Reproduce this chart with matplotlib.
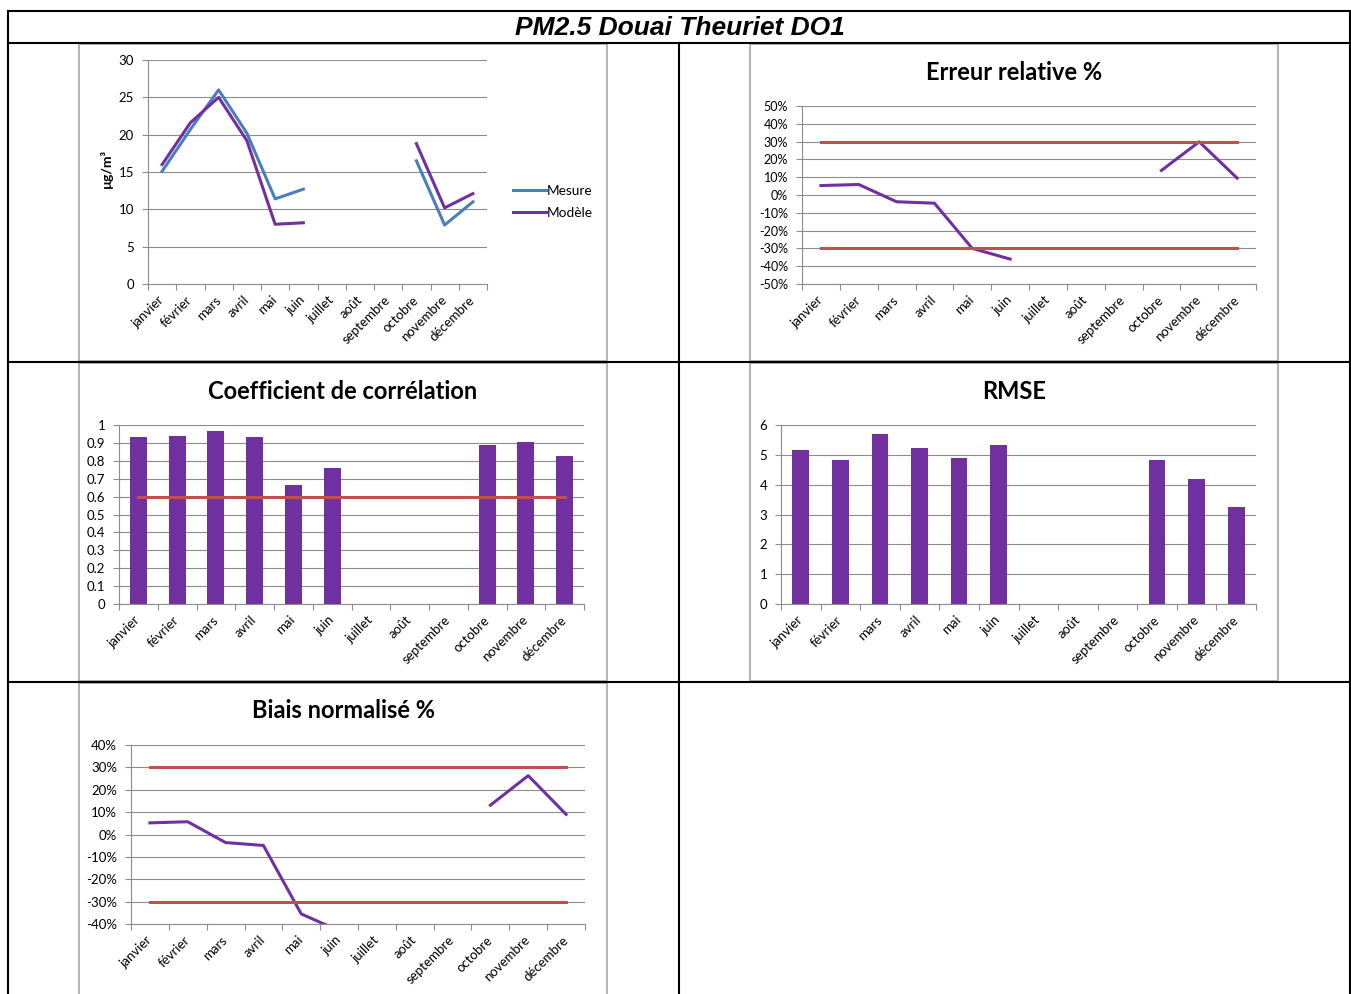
import matplotlib
matplotlib.use('Agg')
import matplotlib.pyplot as plt
import numpy as np
from matplotlib.lines import Line2D
from matplotlib.patches import Rectangle
from matplotlib.ticker import FuncFormatter, MultipleLocator

plt.rcParams['font.family'] = ['Lato', 'DejaVu Sans']

# données
mois = ['janvier', 'février', 'mars', 'avril', 'mai', 'juin', 'juillet',
        'août', 'septembre', 'octobre', 'novembre', 'décembre']
nan = np.nan
mesure = [15.1, 20.7, 26.0, 20.2, 11.4, 12.7, nan, nan, nan, 16.5, 7.9, 11.0]
modele = [16.0, 21.6, 25.0, 19.2, 8.0, 8.2, nan, nan, nan, 18.8, 10.2, 12.1]
erreur_rel = [5.3, 5.9, -3.8, -4.6, -30.0, -36.0, nan, nan, nan, 13.8, 29.9, 9.5]
correlation = [0.933, 0.937, 0.968, 0.931, 0.664, 0.757, nan, nan, nan, 0.888, 0.905, 0.826]
rmse = [5.17, 4.84, 5.70, 5.23, 4.89, 5.32, nan, nan, nan, 4.83, 4.20, 3.25]
biais = [5.2, 5.7, -3.6, -4.9, -35.5, -43.0, nan, nan, nan, 13.1, 26.3, 9.0]
seuil_pct = 30
seuil_corr = 0.6

BLEU = '#4A7EBB'
VIOLET = '#7030A0'
ROUGE = '#C0504D'
GRIS = '#8C8C8C'

W, H = 1351, 994
fig = plt.figure(figsize=(W / 100, H / 100), dpi=100)


def box(x0, y0, x1, y1):
    return [x0 / W, 1 - y1 / H, (x1 - x0) / W, (y1 - y0) / H]


def fy(y):
    return 1 - y / H


# tableau
for x0, y0, x1, y1 in [(8, 11, 1350, 11), (8, 43, 1350, 43), (8, 362, 1350, 362),
                       (8, 682, 1350, 682), (8, 11, 8, 994), (1350, 11, 1350, 994),
                       (679, 43, 679, 994)]:
    fig.add_artist(Line2D([x0 / W, x1 / W], [fy(y0), fy(y1)], color='black', lw=1.5))

# cadres des graphiques
for x0, y0, x1, y1 in [(79, 44, 607, 361), (750, 44, 1278, 361), (79, 363, 607, 681),
                       (750, 363, 1278, 681), (79, 683, 607, 1000)]:
    fig.add_artist(Rectangle((x0 / W, fy(y1)), (x1 - x0) / W, (y1 - y0) / H,
                             transform=fig.transFigure, fill=False, ec='#A6A6A6', lw=1.2))

fig.text(680 / W, fy(28), 'PM2.5 Douai Theuriet DO1', ha='center', va='center',
         fontsize=19, fontweight='bold', fontstyle='italic',
         family=['Liberation Sans Narrow', 'Liberation Sans'])

x = np.arange(12) + 0.5


def style(ax, ymin, ymax, step, fmt, size=9):
    ax.set_xlim(0, 12)
    ax.set_ylim(ymin, ymax)
    ax.yaxis.set_major_locator(MultipleLocator(step))
    ax.yaxis.set_major_formatter(FuncFormatter(fmt))
    ax.set_xticks(np.arange(13))
    ax.set_xticklabels([])
    ax.set_xticks(x, minor=True)
    ax.set_xticklabels(mois, minor=True, rotation=45, ha='right', va='center',
                       rotation_mode='anchor', fontsize=9.5)
    ax.tick_params(axis='x', which='major', length=4, color=GRIS, direction='out')
    ax.tick_params(axis='x', which='minor', length=0, pad=10)
    ax.tick_params(axis='y', length=4, color=GRIS, labelsize=size, pad=6)
    ax.grid(axis='y', color=GRIS, lw=0.8)
    ax.set_axisbelow(True)
    for s in ['top', 'right']:
        ax.spines[s].set_visible(False)
    for s in ['left', 'bottom']:
        ax.spines[s].set_color(GRIS)
    ax.patch.set_alpha(0)


def titre(texte, xc, yb):
    fig.text(xc / W, fy(yb), texte, ha='center', va='baseline',
             fontsize=17, fontweight='bold')


pct = lambda v, p: '{:.0f}%'.format(v)

# concentrations
ax1 = fig.add_axes(box(148, 60, 487, 284))
ax1.plot(x, mesure, color=BLEU, lw=2.2, label='Mesure')
ax1.plot(x, modele, color=VIOLET, lw=2.2, label='Modèle')
style(ax1, 0, 30, 5, lambda v, p: '{:.0f}'.format(v), size=9.5)
ax1.legend(loc='center left', bbox_to_anchor=(513 / W, fy(202)), bbox_transform=fig.transFigure,
           frameon=False, handlelength=2.4, handletextpad=0.05, labelspacing=0.75,
           borderpad=0, borderaxespad=0, fontsize=9.8)
fig.text(106 / W, fy(168), 'µg/m³', rotation=90, fontweight='bold', fontsize=10,
         ha='center', va='center')

# erreur relative
ax2 = fig.add_axes(box(802, 106, 1256, 284))
ax2.plot(x, erreur_rel, color=VIOLET, lw=2.2)
ax2.plot([x[0], x[-1]], [seuil_pct, seuil_pct], color=ROUGE, lw=2.2)
ax2.plot([x[0], x[-1]], [-seuil_pct, -seuil_pct], color=ROUGE, lw=2.2)
style(ax2, -50, 50, 10, pct)
titre('Erreur relative %', 1014, 80)

# coefficient de corrélation
ax3 = fig.add_axes(box(119, 425, 584, 604))
ok = ~np.isnan(correlation)
ax3.bar(x[ok], np.array(correlation)[ok], width=0.44, color=VIOLET)
ax3.plot([x[0], x[-1]], [seuil_corr, seuil_corr], color=ROUGE, lw=2.2)
style(ax3, 0, 1, 0.1, lambda v, p: '{:g}'.format(round(v, 1)), size=9.5)
titre('Coefficient de corrélation', 343, 399)

# RMSE
ax4 = fig.add_axes(box(781, 425, 1256, 604))
ok = ~np.isnan(rmse)
ax4.bar(x[ok], np.array(rmse)[ok], width=0.42, color=VIOLET)
style(ax4, 0, 6, 1, lambda v, p: '{:.0f}'.format(v), size=9.5)
titre('RMSE', 1014, 399)

# biais normalisé
ax5 = fig.add_axes(box(131, 745, 585, 924))
ax5.plot(x, biais, color=VIOLET, lw=2.2)
ax5.plot([x[0], x[-1]], [seuil_pct, seuil_pct], color=ROUGE, lw=2.2)
ax5.plot([x[0], x[-1]], [-seuil_pct, -seuil_pct], color=ROUGE, lw=2.2)
style(ax5, -40, 40, 10, pct, size=9.5)
titre('Biais normalisé %', 343, 718)

fig.savefig('out.png', dpi=100)
